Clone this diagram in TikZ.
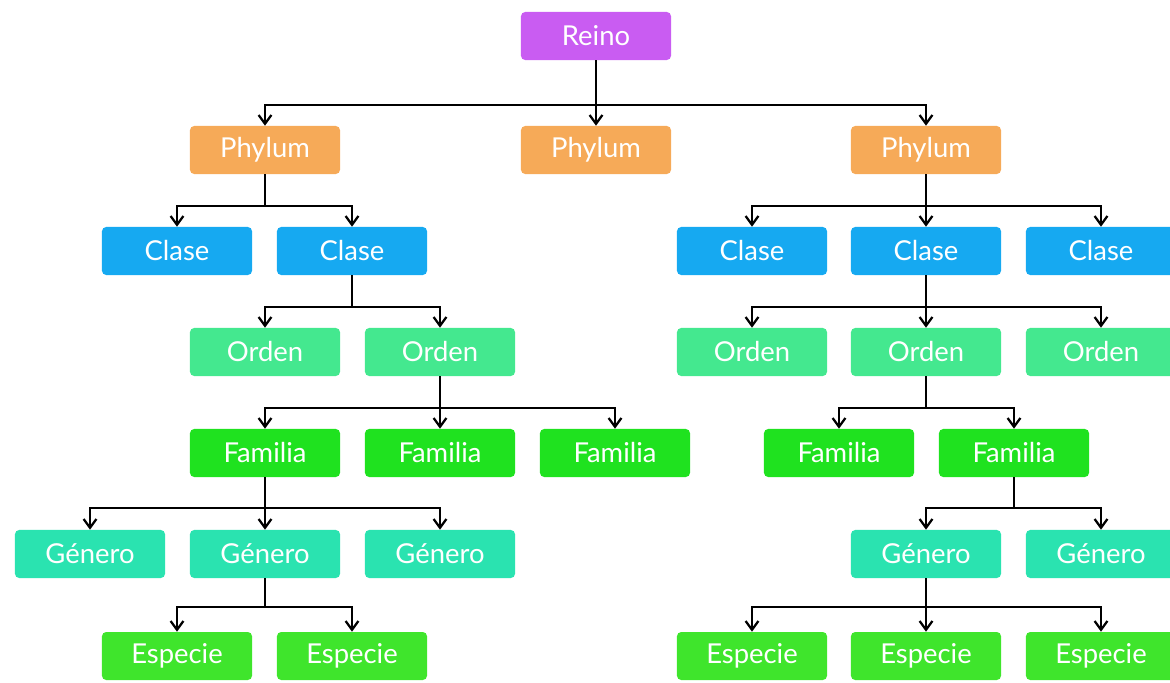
\documentclass[tikz,border=0pt]{standalone}
\usepackage{fontspec}
\setmainfont{Lato}
\usepackage{tikz}
\usetikzlibrary{arrows.meta,positioning}
\definecolor{cReino}{HTML}{C95CF2}
\definecolor{cPhylum}{HTML}{F6AA58}
\definecolor{cClase}{HTML}{16A9F1}
\definecolor{cOrden}{HTML}{44E88F}
\definecolor{cFamilia}{HTML}{1FE21F}
\definecolor{cGenero}{HTML}{2AE3B0}
\definecolor{cEspecie}{HTML}{3FE52C}

\begin{document}
\begin{tikzpicture}[
    x=0.025cm, y=-0.025cm,
    font=\fontsize{19.5}{22}\selectfont,
    box/.style={
        rounded corners=3pt, text=white,
        minimum height=1.2cm, minimum width=3.75cm,
        align=center, inner sep=0pt
    },
    reino/.style={box, fill=cReino},
    phylum/.style={box, fill=cPhylum},
    clase/.style={box, fill=cClase},
    orden/.style={box, fill=cOrden},
    familia/.style={box, fill=cFamilia},
    genero/.style={box, fill=cGenero},
    especie/.style={box, fill=cEspecie},
    arrow/.style={
        -{Straight Barb[length=2.2mm,width=3.2mm]}, line width=1.6pt
    }
]
\clip (0,0) rectangle (1170,683);
\useasboundingbox (0,0) rectangle (1170,683);

% --- top ---
\node[reino] (reino) at (596,36) {Reino};

% --- phyla ---
\node[phylum] (ph1) at (265,150) {Phylum};
\node[phylum] (ph2) at (596,150) {Phylum};
\node[phylum] (ph3) at (926,150) {Phylum};

% --- clases ---
\node[clase] (cl1) at (177,251)  {Clase};
\node[clase] (cl2) at (352,251)  {Clase};
\node[clase] (cl3) at (752,251)  {Clase};
\node[clase] (cl4) at (926,251)  {Clase};
\node[clase] (cl5) at (1101,251) {Clase};

% --- ordenes ---
\node[orden] (or1) at (265,352)  {Orden};
\node[orden] (or2) at (440,352)  {Orden};
\node[orden] (or3) at (752,352)  {Orden};
\node[orden] (or4) at (926,352)  {Orden};
\node[orden] (or5) at (1101,352) {Orden};

% --- familias ---
\node[familia] (fa1) at (265,453)  {Familia};
\node[familia] (fa2) at (440,453)  {Familia};
\node[familia] (fa3) at (615,453)  {Familia};
\node[familia] (fa4) at (839,453)  {Familia};
\node[familia] (fa5) at (1014,453) {Familia};

% --- generos ---
\node[genero] (ge1) at (90,554)   {Género};
\node[genero] (ge2) at (265,554)  {Género};
\node[genero] (ge3) at (440,554)  {Género};
\node[genero] (ge4) at (926,554)  {Género};
\node[genero] (ge5) at (1101,554) {Género};

% --- especies ---
\node[especie] (es1) at (177,656)  {Especie};
\node[especie] (es2) at (352,656)  {Especie};
\node[especie] (es3) at (752,656)  {Especie};
\node[especie] (es4) at (926,656)  {Especie};
\node[especie] (es5) at (1101,656) {Especie};

% --- elbow connectors: parent down to a bus, then across and down ---
\foreach \c in {ph1,ph2,ph3}
  \draw[arrow] (reino.south) -- ++(0,45) -| (\c.north);
\foreach \c in {cl1,cl2}
  \draw[arrow] (ph1.south) -- ++(0,32) -| (\c.north);
\foreach \c in {cl3,cl4,cl5}
  \draw[arrow] (ph3.south) -- ++(0,32) -| (\c.north);
\foreach \c in {or1,or2}
  \draw[arrow] (cl2.south) -- ++(0,32) -| (\c.north);
\foreach \c in {or3,or4,or5}
  \draw[arrow] (cl4.south) -- ++(0,32) -| (\c.north);
\foreach \c in {fa1,fa2,fa3}
  \draw[arrow] (or2.south) -- ++(0,32) -| (\c.north);
\foreach \c in {fa4,fa5}
  \draw[arrow] (or4.south) -- ++(0,32) -| (\c.north);
\foreach \c in {ge1,ge2,ge3}
  \draw[arrow] (fa1.south) -- ++(0,31) -| (\c.north);
\foreach \c in {ge4,ge5}
  \draw[arrow] (fa5.south) -- ++(0,31) -| (\c.north);
\foreach \c in {es1,es2}
  \draw[arrow] (ge2.south) -- ++(0,29) -| (\c.north);
\foreach \c in {es3,es4,es5}
  \draw[arrow] (ge4.south) -- ++(0,29) -| (\c.north);

\end{tikzpicture}
\end{document}
